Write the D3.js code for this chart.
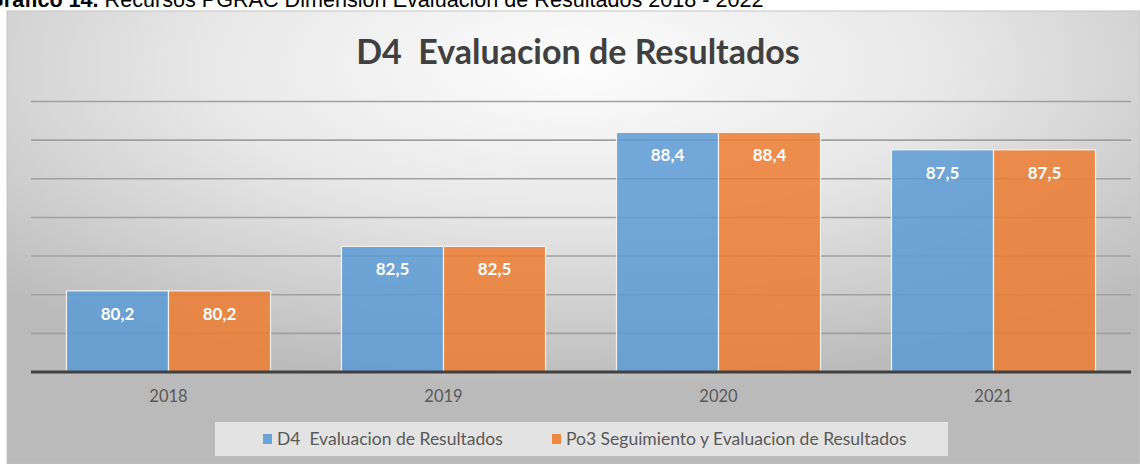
<!DOCTYPE html>
<html>
<head>
<meta charset="utf-8">
<script src="https://cdn.jsdelivr.net/npm/d3@7"></script>
<style>
    html, body { margin: 0; padding: 0; background: #fff; }
    #chart { width: 1140px; height: 464px; overflow: hidden; }
</style>
</head>
<body>
<div id="chart"></div>
<script>
//Datos del gráfico
const years = ['2018', '2019', '2020', '2021'];
const seriesNames = ['D4  Evaluacion de Resultados', 'Po3 Seguimiento y Evaluacion de Resultados'];
const d4Values = [80.2, 82.5, 88.4, 87.5];
const po3Values = [80.2, 82.5, 88.4, 87.5];
const gridValues = [76, 78, 80, 82, 84, 86, 88, 90];

//Colores fijos
const COLOR_BLUE = '#5B9BD5',
COLOR_ORANGE = '#ED7D31',
COLOR_TEXT = '#595959';

const FONT = 'Lato, "Open Sans", sans-serif';

let width = 1140, height = 464;

let svg = d3.select('#chart')
    .append('svg')
    .attr('width', width)
    .attr('height', height);

//Degradado de fondo
let defs = svg.append('defs');
let grad = defs.append('radialGradient')
    .attr('id', 'bg')
    .attr('cx', 0.5).attr('cy', 0.12).attr('r', 0.72);
grad.append('stop').attr('offset', '0%').attr('stop-color', '#fdfdfd');
grad.append('stop').attr('offset', '45%').attr('stop-color', '#e8e8e8');
grad.append('stop').attr('offset', '100%').attr('stop-color', '#bababa');

//Pie de gráfico (cortado arriba, como en el original)
let caption = svg.append('text')
    .attr('x', -13)
    .attr('y', 7)
    .style('font-family', 'Arial, "Liberation Sans", sans-serif')
    .style('font-size', '21.6px')
    .attr('fill', '#000');
caption.append('tspan').style('font-weight', 'bold').text('Gráfico 14.');
caption.append('tspan').text(' Recursos PGRAC Dimensión Evaluación de Resultados 2018 - 2022');

svg.append('rect')
    .attr('x', 7).attr('y', 11)
    .attr('width', width - 7).attr('height', height - 11)
    .attr('fill', 'url(#bg)')
    .attr('stroke', '#c4c4c4')
    .attr('stroke-width', 1);

//Título
svg.append('text')
    .attr('x', 578)
    .attr('y', 64)
    .attr('text-anchor', 'middle')
    .style('white-space', 'pre')
    .style('font-family', FONT)
    .style('font-weight', 'bold')
    .style('font-size', '34px')
    .attr('fill', '#404040')
    .text('D4  Evaluacion de Resultados');

//Escalas
let x = d3.scaleBand()
    .domain(years)
    .range([31, 1131])
    .paddingInner(0.258)
    .paddingOuter(0.129);

let xSub = d3.scaleBand()
    .domain(seriesNames)
    .range([0, x.bandwidth()]);

let y = d3.scaleLinear()
    .domain([76, 90])
    .range([372, 101.5]);

let fmt = d3.formatLocale({ decimal: ',', thousands: '.', grouping: [3], currency: ['', ''] }).format('.1f');

//Líneas de rejilla
svg.append('g')
    .selectAll('line')
    .data(gridValues.filter(function(d) { return d > 76; }))
    .enter()
    .append('line')
    .attr('x1', 31).attr('x2', 1131)
    .attr('y1', function(d) { return y(d); })
    .attr('y2', function(d) { return y(d); })
    .attr('stroke', '#a0a0a0')
    .attr('stroke-width', 1.6);

//Barras
let rows = years.map(function(yr, i) {
    return [
        { year: yr, serie: seriesNames[0], value: d4Values[i], color: COLOR_BLUE },
        { year: yr, serie: seriesNames[1], value: po3Values[i], color: COLOR_ORANGE }
    ];
});
let flat = [].concat.apply([], rows);

let bars = svg.append('g');
bars.selectAll('rect')
    .data(flat)
    .enter()
    .append('rect')
    .attr('x', function(d) { return x(d.year) + xSub(d.serie); })
    .attr('y', function(d) { return y(d.value); })
    .attr('width', xSub.bandwidth())
    .attr('height', function(d) { return y(76) - y(d.value); })
    .attr('fill', function(d) { return d.color; })
    .attr('fill-opacity', 0.85)
    .attr('stroke', '#f4f1ec')
    .attr('stroke-width', 1.2);

bars.selectAll('text')
    .data(flat)
    .enter()
    .append('text')
    .attr('x', function(d) { return x(d.year) + xSub(d.serie) + xSub.bandwidth() / 2; })
    .attr('y', function(d) { return y(d.value) + 29; })
    .attr('text-anchor', 'middle')
    .style('font-family', FONT)
    .style('font-weight', 'bold')
    .style('font-size', '17px')
    .attr('fill', '#fff')
    .text(function(d) { return fmt(d.value); });

//Eje X
let xAxis = svg.append('g')
    .attr('transform', 'translate(0,' + y(76) + ')')
    .call(d3.axisBottom(x).tickSize(0).tickPadding(0));
xAxis.select('.domain')
    .attr('d', 'M31,0H1131')
    .attr('stroke', '#404040')
    .attr('stroke-width', 3);
xAxis.selectAll('.tick text')
    .attr('dy', null)
    .attr('y', 30)
    .style('font-family', FONT)
    .style('font-size', '16.5px')
    .attr('fill', COLOR_TEXT);

//Leyenda
let legend = svg.append('g');
legend.append('rect')
    .attr('x', 215).attr('y', 422)
    .attr('width', 733).attr('height', 34)
    .attr('fill', '#f0f0f0')
    .attr('fill-opacity', 0.75);

let legendPos = [263, 552];
let legendColors = [COLOR_BLUE, COLOR_ORANGE];
seriesNames.forEach(function(name, i) {
    legend.append('rect')
        .attr('x', legendPos[i]).attr('y', 434)
        .attr('width', 9).attr('height', 10)
        .attr('fill', legendColors[i])
        .attr('fill-opacity', 0.9);
    legend.append('text')
        .attr('x', legendPos[i] + 14)
        .attr('y', 445)
        .style('white-space', 'pre')
        .style('font-family', FONT)
        .style('font-size', '17.5px')
        .attr('fill', COLOR_TEXT)
        .text(name);
});
</script>
</body>
</html>
